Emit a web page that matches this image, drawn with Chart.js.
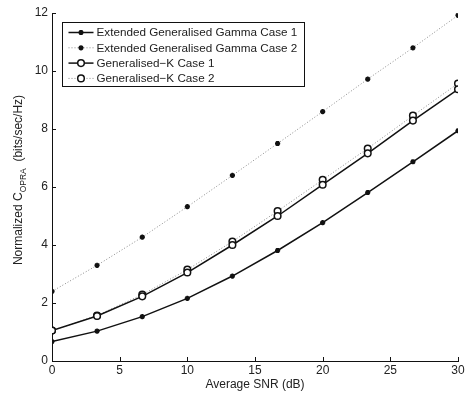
<!DOCTYPE html>
<html>
<head>
<meta charset="utf-8">
<script src="https://cdn.jsdelivr.net/npm/chart.js@4/dist/chart.umd.min.js"></script>
<style>
  html, body { margin: 0; padding: 0; background: #fff; }
  #wrap { width: 470px; height: 396px; }
</style>
</head>
<body>
<div id="wrap"><canvas id="myChart" width="470" height="396"></canvas></div>
<script>
'use strict';

// values
const snrDb = [0, 3.33, 6.67, 10, 13.33, 16.67, 20, 23.33, 26.67, 30];
const eggCase1 = [0.67, 1.03, 1.53, 2.16, 2.93, 3.81, 4.77, 5.81, 6.87, 7.94];
const eggCase2 = [2.40, 3.30, 4.27, 5.32, 6.40, 7.50, 8.60, 9.72, 10.80, 11.92];
const gkCase1 = [1.05, 1.55, 2.23, 3.05, 4.00, 5.00, 6.08, 7.16, 8.29, 9.37];
const gkCase2 = [1.05, 1.57, 2.29, 3.15, 4.12, 5.17, 6.25, 7.33, 8.46, 9.57];

const xTicks = [0, 5, 10, 15, 20, 25, 30];
const yTicks = [0, 2, 4, 6, 8, 10, 12];

const seriesLabels = [
  'Extended Generalised Gamma Case 1',
  'Extended Generalised Gamma Case 2',
  'Generalised\u2212K Case 1',
  'Generalised\u2212K Case 2'
];

const FONT = '"Liberation Sans", Arial, Helvetica, sans-serif';
const TXT = '#222';

function toPoints(vals){
  let pts = [];
  for(let i = 0; i < snrDb.length; i++){
    pts.push({x: snrDb[i], y: vals[i]});
  }
  return pts;
}

function solid(label, vals, marker){
  return {
    label: label,
    data: toPoints(vals),
    borderColor: '#111',
    borderWidth: 1.5,
    pointStyle: marker,
    pointRadius: marker === 'circle' ? 3.3 : 2.6,
    pointBorderWidth: marker === 'circle' ? 1.5 : 1.6,
    pointBorderColor: '#111',
    pointBackgroundColor: marker === 'circle' ? '#fff' : '#111',
    tension: 0
  };
}

function dotted(label, vals, marker){
  let ds = solid(label, vals, marker);
  ds.borderColor = '#8a8a8a';
  ds.borderWidth = 1;
  ds.borderDash = [1, 2];
  return ds;
}

// legend box, inward ticks and the y title with subscript
const extrasPlugin = {
  id: 'extras',
  afterDraw(chart){
    const ctx = chart.ctx;
    const area = chart.chartArea;
    const xs = chart.scales.x;
    const ys = chart.scales.y;

    ctx.save();
    // inward tick marks
    ctx.strokeStyle = '#111';
    ctx.lineWidth = 1;
    ctx.beginPath();
    for(let i = 0; i < xTicks.length; i++){
      let px = Math.round(xs.getPixelForValue(xTicks[i])) + 0.5;
      ctx.moveTo(px, area.bottom);
      ctx.lineTo(px, area.bottom - 4);
    }
    for(let i = 0; i < yTicks.length; i++){
      let py = Math.round(ys.getPixelForValue(yTicks[i])) + 0.5;
      ctx.moveTo(area.left, py);
      ctx.lineTo(area.left + 4, py);
    }
    ctx.stroke();

    // y axis title
    ctx.fillStyle = TXT;
    ctx.textBaseline = 'middle';
    const big = '12px ' + FONT;
    const small = '8.5px ' + FONT;
    const p1 = 'Normalized C';
    const p2 = 'OPRA';
    const p3 = '  (bits/sec/Hz)';
    ctx.font = big;
    let w1 = ctx.measureText(p1).width;
    let w3 = ctx.measureText(p3).width;
    ctx.font = small;
    let w2 = ctx.measureText(p2).width;
    let total = w1 + w2 + w3;
    ctx.translate(19, 180);
    ctx.rotate(-Math.PI / 2);
    let sx = -total / 2;
    ctx.textAlign = 'left';
    ctx.font = big;
    ctx.fillText(p1, sx, 0);
    ctx.font = small;
    ctx.fillText(p2, sx + w1, 4.5);
    ctx.font = big;
    ctx.fillText(p3, sx + w1 + w2, 0);
    ctx.restore();

    // legend
    ctx.save();
    const bx = area.left + 10.5;
    const by = area.top + 9.5;
    const bw = 242;
    const bh = 64;
    ctx.fillStyle = '#fff';
    ctx.fillRect(bx, by, bw, bh);
    ctx.strokeStyle = '#111';
    ctx.lineWidth = 1;
    ctx.strokeRect(bx, by, bw, bh);
    ctx.font = '11.7px ' + FONT;
    ctx.textBaseline = 'middle';
    ctx.textAlign = 'left';
    const sets = chart.data.datasets;
    for(let i = 0; i < sets.length; i++){
      let ds = sets[i];
      let ry = by + 10 + i * 15.3;
      ctx.save();
      ctx.strokeStyle = ds.borderColor;
      ctx.lineWidth = ds.borderWidth;
      ctx.setLineDash(ds.borderDash || []);
      ctx.beginPath();
      ctx.moveTo(bx + 6, ry);
      ctx.lineTo(bx + 31, ry);
      ctx.stroke();
      ctx.restore();
      ctx.save();
      ctx.fillStyle = ds.pointBackgroundColor;
      ctx.strokeStyle = ds.pointBorderColor;
      ctx.lineWidth = ds.pointBorderWidth;
      if(ds.pointStyle === 'circle'){
        ctx.beginPath();
        ctx.arc(bx + 18.5, ry, ds.pointRadius, 0, Math.PI * 2);
        ctx.fill();
        ctx.stroke();
      }else{
        Chart.helpers.drawPoint(ctx, {
          pointStyle: ds.pointStyle,
          radius: ds.pointRadius,
          borderWidth: ds.pointBorderWidth,
          rotation: 0
        }, bx + 18.5, ry);
      }
      ctx.restore();
      ctx.fillStyle = TXT;
      ctx.fillText(ds.label, bx + 34, ry + 0.5);
    }
    ctx.restore();
  }
};

let ctx = document.getElementById('myChart').getContext('2d');
let myChart = new Chart(ctx, {
  type: 'line',
  data: {
    datasets: [
      solid(seriesLabels[0], eggCase1, 'star'),
      dotted(seriesLabels[1], eggCase2, 'star'),
      solid(seriesLabels[2], gkCase1, 'circle'),
      dotted(seriesLabels[3], gkCase2, 'circle')
    ]
  },
  options: {
    responsive: false,
    animation: false,
    layout: { padding: { left: 0, right: 12, top: 13, bottom: 0 } },
    plugins: {
      legend: { display: false },
      tooltip: { enabled: false }
    },
    scales: {
      x: {
        type: 'linear',
        min: 0,
        max: 30,
        afterFit(scale){ scale.height = 35; },
        afterBuildTicks(scale){ scale.ticks = xTicks.map(v => ({value: v})); },
        grid: { display: true, drawOnChartArea: false, drawTicks: false, color: '#111' },
        border: { display: true, color: '#111', width: 1 },
        ticks: { color: TXT, font: { family: FONT, size: 12 }, padding: 2, maxRotation: 0 },
        title: {
          display: true,
          text: 'Average SNR (dB)',
          color: TXT,
          font: { family: FONT, size: 12 },
          padding: { top: 0, bottom: 4 }
        }
      },
      y: {
        type: 'linear',
        min: 0,
        max: 12,
        afterFit(scale){ scale.width = 52; },
        afterBuildTicks(scale){ scale.ticks = yTicks.map(v => ({value: v})); },
        grid: { display: true, drawOnChartArea: false, drawTicks: false, color: '#111' },
        border: { display: true, color: '#111', width: 1 },
        ticks: { color: TXT, font: { family: FONT, size: 12 }, padding: 4 }
      }
    }
  },
  plugins: [extrasPlugin]
});
</script>
</body>
</html>
